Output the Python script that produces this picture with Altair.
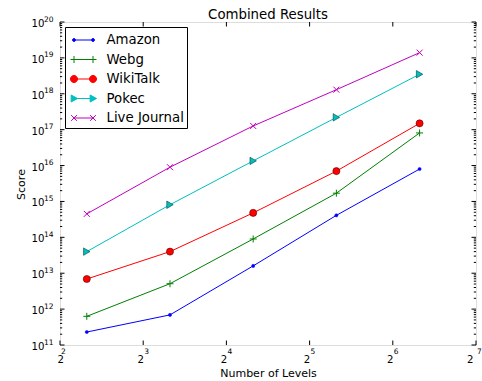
import altair as alt
import pandas as pd

# ---------------- data ----------------
series_names = ["Amazon", "Webg", "WikiTalk", "Pokec", "Live Journal"]
series_colors = ["#0000ff", "#008000", "#ff0000", "#00bfbf", "#bf00bf"]
levels = [5, 10, 20, 40, 80]
amazon = [2.3e11, 6.9e11, 1.6e13, 4.1e14, 8.0e15]
webg = [6.3e11, 5.1e12, 9.0e13, 1.7e15, 8.1e16]
wikitalk = [6.9e12, 4.0e13, 4.8e14, 7.0e15, 1.5e17]
pokec = [4.0e13, 8.1e14, 1.35e16, 2.2e17, 3.5e18]
live_journal = [4.5e14, 9.0e15, 1.27e17, 1.3e18, 1.4e19]

x_ticks = [4, 8, 16, 32, 64, 128]
x_tick_exponents = ["2", "3", "4", "5", "6", "7"]
y_ticks = [1e11, 1e12, 1e13, 1e14, 1e15, 1e16, 1e17, 1e18, 1e19, 1e20]
y_tick_exponents = ["11", "12", "13", "14", "15", "16", "17", "18", "19", "20"]
y_minor_mult = [2, 3, 4, 5, 6, 7, 8, 9]

all_values = [amazon, webg, wikitalk, pokec, live_journal]
rows = []
for name, vals in zip(series_names, all_values):
    for lv, v in zip(levels, vals):
        rows.append({"series": name, "levels": lv, "score": v})
df = pd.DataFrame(rows)

y_minor = [m * t for t in y_ticks[:-1] for m in y_minor_mult]
df_xt = pd.DataFrame({"levels": x_ticks, "exp": x_tick_exponents})
df_yt = pd.DataFrame({"score": y_ticks, "exp": y_tick_exponents})
df_ym = pd.DataFrame({"score": y_minor})

# ---------------- layout / style ----------------
W, H = 416, 323
FONT = "DejaVu Sans"
BASE_FS = 10.2
EXP_FS = 7.5

xscale = alt.Scale(type="log", base=2, domain=[4, 128], nice=False)
yscale = alt.Scale(type="log", domain=[1e11, 1e20], nice=False)

x_axis = alt.Axis(values=x_ticks, labelExpr="'2'", title="Number of Levels",
                  ticks=False, domain=False, grid=False, labelPadding=9, labelOffset=-3,
                  labelFont=FONT, labelFontSize=BASE_FS, labelColor="black",
                  titleFont=FONT, titleFontSize=11, titleFontWeight="normal", titleColor="black",
                  titleBaseline="alphabetic", titleY=31)
y_axis = alt.Axis(values=y_ticks, labelExpr="'10'", title="Score",
                  ticks=False, domain=False, grid=False, labelPadding=16, labelOffset=1.5,
                  labelFont=FONT, labelFontSize=BASE_FS, labelColor="black",
                  titleFont=FONT, titleFontSize=11, titleFontWeight="normal", titleColor="black",
                  titleBaseline="alphabetic", titleX=-36, titleY=162, titleAngle=-90, titleAlign="center")

X = alt.X("levels:Q", scale=xscale, axis=x_axis)
Y = alt.Y("score:Q", scale=yscale, axis=y_axis)

leg = alt.Legend(title=None, orient="none", legendX=5, legendY=5,
                 symbolSize=361, symbolStrokeWidth=1, symbolOpacity=1, symbolOffset=5.5,
                 labelFont=FONT, labelFontSize=13.3, labelColor="black", labelOffset=13,
                 rowPadding=2.5, padding=3, strokeColor="black", fillColor="white",
                 cornerRadius=0)

stroke_scale = alt.Scale(domain=series_names, range=series_colors)

lines = alt.Chart(df).mark_line(strokeWidth=1).encode(
    x=X, y=Y,
    stroke=alt.Stroke("series:N", scale=stroke_scale, legend=leg),
)

PLUS = "M-1,0H1M0,-1V1"
XMARK = "M-1,-1L1,1M-1,1L1,-1"
marker_styles = {
    "Amazon": dict(shape="circle", size=10, fill="#0000ff", stroke="#0000ff", strokeWidth=0.5),
    "Webg": dict(shape=PLUS, size=49, fill="transparent", stroke="#008000", strokeWidth=1),
    "WikiTalk": dict(shape="circle", size=50, fill="#ff0000", stroke="#550000", strokeWidth=0.6),
    "Pokec": dict(shape="triangle-right", size=55, fill="#00bfbf", stroke="#004040", strokeWidth=0.6),
    "Live Journal": dict(shape=XMARK, size=36, fill="transparent", stroke="#bf00bf", strokeWidth=1),
}

marker_layers = []
for name in series_names:
    st = marker_styles[name]
    marker_layers.append(
        alt.Chart(df).transform_filter(alt.datum.series == name).mark_point(
            opacity=1, filled=False, **st
        ).encode(x=X, y=Y)
    )

# legend symbols: short line with a marker at each end (unit: half line length)
legend_paths = [
    "M-1,0H1M-0.84,0A0.16,0.16,0,1,0,-1.16,0A0.16,0.16,0,1,0,-0.84,0M1.16,0A0.16,0.16,0,1,0,0.84,0A0.16,0.16,0,1,0,1.16,0",
    "M-1.37,0H1.37M-1,-0.37V0.37M1,-0.37V0.37",
    "M-1,0H1M-0.63,0A0.37,0.37,0,1,0,-1.37,0A0.37,0.37,0,1,0,-0.63,0M1.37,0A0.37,0.37,0,1,0,0.63,0A0.37,0.37,0,1,0,1.37,0",
    "M-1,0H1M-1.3,-0.37L-0.63,0L-1.3,0.37ZM0.7,-0.37L1.37,0L0.7,0.37Z",
    "M-1,0H1M-1.3,-0.3L-0.7,0.3M-1.3,0.3L-0.7,-0.3M0.7,-0.3L1.3,0.3M0.7,0.3L1.3,-0.3",
]

legend_layer = alt.Chart(df).mark_point(opacity=0, filled=True).encode(
    x=X, y=Y,
    fill=alt.Fill("series:N", scale=alt.Scale(domain=series_names, range=series_colors), legend=leg),
    stroke=alt.Stroke("series:N", scale=stroke_scale, legend=leg),
    shape=alt.Shape("series:N", scale=alt.Scale(domain=series_names, range=legend_paths), legend=leg),
)

# inward tick marks on all four sides
def yrule(data, x0, x1):
    return alt.Chart(data).mark_rule(color="black", strokeWidth=1).encode(
        y=Y, x=alt.value(x0), x2=alt.value(x1))

def xrule(data, y0, y1):
    return alt.Chart(data).mark_rule(color="black", strokeWidth=1).encode(
        x=X, y=alt.value(y0), y2=alt.value(y1))

ticks = [
    yrule(df_yt, 0, 4.5), yrule(df_yt, W - 4.5, W),
    yrule(df_ym, 0, 2.2), yrule(df_ym, W - 2.2, W),
    xrule(df_xt, H - 4.5, H), xrule(df_xt, 0, 4.5),
]

# exponents of the tick labels
y_exp = alt.Chart(df_yt).mark_text(align="left", baseline="middle", font=FONT, fontSize=EXP_FS,
                                   color="black", dy=-2.5).encode(
    y=Y, x=alt.value(-16), text="exp:N")
x_exp = alt.Chart(df_xt).mark_text(align="left", baseline="middle", font=FONT, fontSize=EXP_FS,
                                   color="black", dx=1).encode(
    x=X, y=alt.value(H + 7), text="exp:N")

chart = alt.layer(lines, *marker_layers, *ticks, y_exp, x_exp, legend_layer).properties(
    width=W, height=H,
    title=alt.TitleParams("Combined Results", font=FONT, fontSize=13.3, fontWeight="normal",
                          color="black", anchor="middle", offset=4, dy=10),
    autosize=alt.AutoSizeParams(type="none"),
    padding={"left": 60, "top": 22, "right": 6, "bottom": 36},
).configure_view(stroke="black", strokeWidth=1).configure_legend(
    labelFontSize=13.3, labelFont=FONT
).configure(background="white")

chart.save("out.html", embed_options={"renderer": "svg", "actions": False})
